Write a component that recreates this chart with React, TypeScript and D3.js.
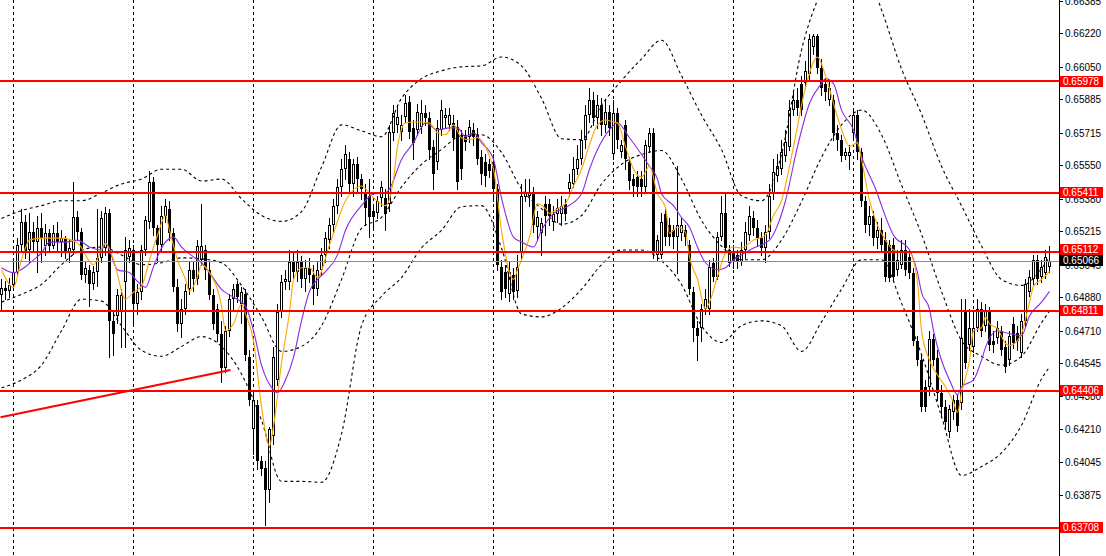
import React, { useEffect } from "react";
import * as d3 from "d3";

// ---- Data (prices quoted in pips, i.e. price x 10 000) ----
const open = [
  6489, 6492.5, 6491, 6494, 6501, 6514.5, 6526, 6512, 6521, 6516,
  6523, 6514, 6520.5, 6514, 6520.5, 6516, 6518, 6511, 6512, 6528.5,
  6521, 6499.5, 6502, 6494.5, 6501, 6508, 6513, 6531, 6476, 6478.5,
  6481, 6495.5, 6508.5, 6512, 6484.5, 6490.5, 6512, 6526, 6546.5, 6523,
  6514.5, 6529.5, 6533, 6520.5, 6493, 6474.5, 6482, 6492, 6502, 6497,
  6507, 6512, 6502, 6489, 6482, 6469.5, 6452, 6471, 6487, 6494.5,
  6484.5, 6489.5, 6457.5, 6421, 6433.5, 6405, 6401.5, 6390, 6417.5, 6446,
  6480.5, 6495.5, 6495.5, 6506, 6501, 6506, 6497, 6503, 6499.5, 6492,
  6502, 6509.5, 6517, 6524.5, 6534.5, 6544, 6553, 6558, 6545.5, 6555.5,
  6548, 6540.5, 6539.5, 6532, 6531, 6538.5, 6538.5, 6535.5, 6571.5, 6575.5,
  6572, 6579.5, 6587, 6574, 6573, 6574.5, 6581.5, 6579, 6564.5, 6556.5,
  6573, 6579, 6575.5, 6576.5, 6574.5, 6570.5, 6569.5, 6569.5, 6573, 6570.5,
  6559, 6556.5, 6555.5, 6556.5, 6543, 6503.5, 6501, 6489.5, 6499.5, 6491,
  6511, 6539, 6539.5, 6541, 6523.5, 6520.5, 6535.5, 6535.5, 6526, 6530.5,
  6530.5, 6535.5, 6543, 6545.5, 6553, 6558, 6568, 6580.5, 6588, 6579,
  6585.5, 6575.5, 6582, 6560.5, 6581.5, 6561.5, 6575.5, 6556.5, 6548, 6549,
  6548, 6544, 6564.5, 6571.5, 6509.5, 6509.5, 6530.5, 6524.5, 6522, 6518.5,
  6520.5, 6522, 6514.5, 6490.5, 6472.5, 6472.5, 6482, 6482, 6505.5, 6498.5,
  6518.5, 6531, 6505.5, 6511, 6509.5, 6506, 6512, 6519.5, 6528, 6523,
  6518, 6513, 6521, 6540.5, 6549.5, 6553, 6559.5, 6564.5, 6583, 6588,
  6596.5, 6597, 6601.5, 6615, 6620.5, 6604.5, 6596.5, 6588, 6588, 6571.5,
  6568, 6559.5, 6559.5, 6571.5, 6580.5, 6561.5, 6537, 6524.5, 6529.5, 6518,
  6522, 6517, 6514.5, 6514.5, 6502, 6504.5, 6512, 6508.5, 6500.5, 6466,
  6456, 6442.5, 6442.5, 6467, 6457, 6439.5, 6432.5, 6419.5, 6429.5, 6436,
  6434.5, 6481, 6463.5, 6462.5, 6472.5, 6482, 6473.5, 6480.5, 6466, 6467.5,
  6471, 6462.5, 6456, 6474.5, 6470, 6459.5, 6476, 6490.5, 6497, 6507,
  6498.5, 6500.5, 6503.5,
];
const high = [
  6497.5, 6496, 6498, 6506, 6518, 6533, 6530, 6531, 6526, 6529,
  6531, 6525, 6522.5, 6524.5, 6526, 6522, 6519, 6517, 6546.5, 6532,
  6523, 6506, 6504.5, 6504, 6533, 6532, 6534, 6533, 6481, 6492,
  6492, 6518.5, 6517, 6514.5, 6494.5, 6514.5, 6529.5, 6552, 6549, 6524.5,
  6534.5, 6538, 6537, 6523, 6497, 6487, 6494.5, 6506, 6506, 6517,
  6535.5, 6514.5, 6506, 6492, 6484.5, 6476, 6473.5, 6489.5, 6494.5, 6496,
  6493, 6492, 6461, 6441, 6436, 6407.5, 6405, 6422, 6462.5, 6484.5,
  6499.5, 6502, 6512, 6511, 6512, 6509, 6507, 6508, 6504.5, 6506,
  6513, 6521, 6528, 6538, 6548, 6558, 6565.5, 6562, 6558, 6559,
  6550.5, 6545.5, 6548, 6534.5, 6539.5, 6547, 6543, 6575.5, 6585.5, 6585.5,
  6580.5, 6590.5, 6590, 6578, 6586, 6588, 6585.5, 6582, 6568, 6578,
  6588, 6584, 6584, 6580.5, 6578, 6573, 6573, 6578, 6576.5, 6574,
  6563, 6560.5, 6558, 6560.5, 6545.5, 6507, 6504.5, 6506, 6503, 6509.5,
  6545.5, 6548, 6548, 6544, 6532, 6528, 6539.5, 6538, 6534.5, 6538,
  6539.5, 6538, 6550.5, 6559, 6565.5, 6573, 6585.5, 6594, 6592, 6590.5,
  6589, 6588, 6585.5, 6588, 6584, 6568, 6578, 6559, 6550.5, 6552,
  6552, 6568, 6574, 6574, 6519.5, 6531, 6533, 6528, 6524.5, 6554.5,
  6528, 6524.5, 6517, 6493, 6476, 6484.5, 6492, 6507, 6508, 6521,
  6539.5, 6540.5, 6514.5, 6514.5, 6512, 6516, 6526, 6534.5, 6532, 6527,
  6521, 6524.5, 6545.5, 6558, 6560.5, 6568, 6573, 6588, 6593, 6594,
  6600.5, 6608, 6621.5, 6621.5, 6621.5, 6609, 6599, 6598, 6590.5, 6575.5,
  6570.5, 6564, 6565.5, 6584, 6583, 6564, 6539.5, 6534.5, 6532, 6526,
  6528, 6521, 6517, 6518, 6512, 6517, 6517, 6512, 6503, 6468.5,
  6458.5, 6446, 6471, 6469.5, 6461, 6443.5, 6436, 6433.5, 6438.5, 6438.5,
  6487, 6487, 6482, 6479.5, 6487, 6485.5, 6484.5, 6483, 6471, 6476,
  6473.5, 6466, 6471, 6478, 6473.5, 6479.5, 6497, 6502, 6509.5, 6509.5,
  6507, 6512, 6514,
];
const low = [
  6482, 6487, 6488, 6492, 6499, 6512, 6508, 6506, 6512, 6501,
  6506, 6509.5, 6511, 6513, 6511, 6509, 6508, 6506, 6510, 6517,
  6497, 6495.5, 6483.5, 6492, 6493.5, 6506, 6509.5, 6457.5, 6458.5, 6475,
  6462.5, 6462.5, 6506, 6473.5, 6479.5, 6487, 6509.5, 6523, 6519.5, 6506,
  6512, 6526, 6517, 6491, 6471, 6468, 6479.5, 6489.5, 6491, 6494.5,
  6504.5, 6497, 6487, 6472, 6466, 6445, 6450, 6468.5, 6482, 6485.5,
  6475, 6456, 6433.5, 6408.5, 6401, 6397.5, 6372.5, 6384, 6413.5, 6443.5,
  6478, 6492, 6492, 6497, 6496, 6493, 6491, 6495.5, 6484.5, 6489,
  6499.5, 6506, 6513, 6521, 6531, 6539.5, 6548, 6541, 6539.5, 6541,
  6538, 6524.5, 6518.5, 6523, 6528, 6534.5, 6522, 6532, 6568, 6572,
  6568, 6577, 6569, 6558, 6570.5, 6571.5, 6575.5, 6558, 6543, 6553,
  6570.5, 6574, 6573, 6563, 6543, 6548, 6563, 6567, 6565.5, 6555.5,
  6545.5, 6544.5, 6549, 6537, 6502, 6487, 6488, 6486, 6487, 6488,
  6508, 6537, 6534.5, 6521, 6517, 6509.5, 6519.5, 6524.5, 6522, 6526,
  6524.5, 6527, 6539.5, 6544, 6550.5, 6555.5, 6564, 6577, 6575.5, 6574,
  6570.5, 6572, 6570.5, 6558, 6564, 6559, 6553, 6543, 6539.5, 6539.5,
  6539.5, 6541, 6562, 6508, 6507, 6508, 6514.5, 6514.5, 6513, 6500.5,
  6517, 6514.5, 6489.5, 6466, 6456, 6466, 6479.5, 6479.5, 6496, 6497,
  6517, 6511, 6504, 6503, 6503, 6504.5, 6508, 6517, 6519.5, 6514.5,
  6509.5, 6506, 6518, 6538, 6547, 6550.5, 6557, 6563, 6580.5, 6580.5,
  6580.5, 6594, 6599, 6611.5, 6602, 6590.5, 6588, 6585.5, 6568, 6563,
  6557, 6558, 6553, 6569, 6558, 6534.5, 6521, 6519.5, 6514.5, 6513,
  6512, 6496, 6496, 6496, 6499.5, 6503, 6499.5, 6498, 6463.5, 6453.5,
  6430, 6430, 6438.5, 6453.5, 6436, 6427, 6421, 6417, 6426, 6420,
  6431, 6452, 6461, 6460, 6471, 6468.5, 6471, 6461, 6460, 6465,
  6458.5, 6450, 6453.5, 6462, 6461, 6457.5, 6473.5, 6488.5, 6494.5, 6494.5,
  6495.5, 6498, 6501,
];
const close = [
  6492.5, 6491, 6494, 6501, 6514.5, 6526, 6511, 6521, 6516, 6523,
  6518, 6520.5, 6514, 6520.5, 6516, 6518, 6511, 6513, 6528.5, 6521,
  6499.5, 6503, 6494.5, 6501, 6508, 6528, 6531, 6476, 6469.5, 6489,
  6489, 6512, 6513, 6484.5, 6490.5, 6512, 6527, 6546.5, 6523, 6514.5,
  6529.5, 6534.5, 6520.5, 6493, 6474.5, 6482, 6491, 6502, 6497, 6514,
  6514, 6502, 6489, 6474.5, 6469.5, 6452, 6471, 6487, 6492, 6488,
  6490.5, 6458.5, 6436, 6436, 6405, 6401, 6390, 6421, 6457.5, 6480.5,
  6495.5, 6497, 6506, 6501, 6506, 6497, 6503, 6499.5, 6492, 6502,
  6509.5, 6518, 6524.5, 6534.5, 6544, 6553, 6560.5, 6545.5, 6555.5, 6548,
  6543, 6533.5, 6528.5, 6528.5, 6537, 6544, 6530.5, 6572, 6581.5, 6579.5,
  6575.5, 6586.5, 6572, 6566.5, 6582, 6581.5, 6579, 6563, 6550.5, 6574,
  6583, 6580.5, 6580.5, 6569, 6546.5, 6553, 6567, 6574.5, 6569.5, 6558,
  6550.5, 6549.5, 6552, 6543, 6504.5, 6490.5, 6492, 6501, 6490.5, 6503.5,
  6539.5, 6541, 6541, 6524.5, 6528.5, 6525.5, 6529.5, 6529.5, 6530.5, 6533.5,
  6534.5, 6530.5, 6546.5, 6553, 6558, 6568, 6580.5, 6588, 6579, 6585.5,
  6575.5, 6582, 6574, 6581.5, 6568, 6565.5, 6558, 6547, 6544.5, 6544,
  6544, 6565.5, 6571.5, 6510.5, 6517, 6526, 6518.5, 6518.5, 6518.5, 6524.5,
  6524.5, 6518.5, 6492, 6472.5, 6468.5, 6482, 6487, 6503.5, 6498.5, 6518.5,
  6531, 6513, 6512, 6506, 6506, 6512, 6521, 6529.5, 6523, 6518,
  6513, 6521, 6539.5, 6551.5, 6554.5, 6561.5, 6567, 6583, 6588, 6584,
  6583, 6603, 6619, 6620.5, 6604.5, 6594.5, 6592, 6594.5, 6571.5, 6568,
  6559.5, 6561.5, 6561.5, 6580.5, 6561.5, 6537, 6524.5, 6529.5, 6518, 6522,
  6514.5, 6498.5, 6498, 6498.5, 6507, 6512, 6502, 6500.5, 6466, 6456,
  6432.5, 6432.5, 6467, 6456, 6439.5, 6432.5, 6424.5, 6431, 6436, 6422.5,
  6467.5, 6454.5, 6472.5, 6472.5, 6482, 6471, 6481, 6463.5, 6463.5, 6472.5,
  6461, 6452.5, 6468.5, 6464.5, 6466, 6476, 6494.5, 6498.5, 6507, 6497,
  6503.5, 6508.5, 6506.6,
];

// Fast moving average (orange), read at these bars
const fastMaBars = [0,3,5,7,10,15,19,23,26,28,31,33,35,37,39,41,42,44,46,47,49,50,52,55,56,58,60,61,63,65,67,68,70,72,73,75,77,79,82,86,90,93,96,98,99,101,103,105,107,109,111,113,115,117,119,122,123,125,127,128,129,132,134,136,137,139,141,143,145,147,149,151,153,154,156,158,160,162,164,166,167,169,171,172,174,176,177,179,181,183,185,188,191,193,195,198,201,204,206,209,211,212,214,215,217,219,221,223,225,227,229,230,232,234,236,238,239,240,242,243,245,246,247,249,251,252,254,255,257,258,260,262];
const fastMa = [6502,6493,6507,6517,6518,6518,6515.5,6504.5,6515.5,6507,6487,6490.5,6493.5,6507,6519.5,6529.5,6522,6507,6497,6491,6498.5,6504.5,6500.5,6483.5,6471,6474.5,6484.5,6479.5,6466,6432.5,6412.5,6422.5,6454.5,6480.5,6497,6503,6503,6498,6514.5,6537,6544.5,6538.5,6534.5,6548,6564.5,6576.5,6577,6577,6576.5,6571.5,6570.5,6575.5,6569,6568,6569,6559.5,6553,6522,6500.5,6497,6502,6518.5,6535.5,6533,6530.5,6533,6535.5,6544.5,6553,6565.5,6575.5,6578,6577,6576.5,6564.5,6553,6549,6554.5,6540.5,6533.5,6520.5,6523.5,6521,6508.5,6497,6482,6485.5,6498.5,6510.5,6513.5,6513,6517,6519.5,6529.5,6537,6564.5,6594.5,6610,6600.5,6579.5,6568,6564.5,6566.5,6558,6537,6524.5,6517,6512,6511,6510.5,6495.5,6471,6456,6448.5,6442.5,6434.5,6429.5,6439.5,6456,6471,6472.5,6478,6474.5,6472,6464.5,6463.5,6466,6469.5,6485.5,6493.5,6497,6501];

// Slow moving average (purple)
const slowMaBars = [0,3,6,8,10,12,16,19,22,25,26,29,32,34,36,38,40,43,45,48,50,52,55,58,61,63,65,68,69,71,73,75,77,79,81,84,86,90,93,96,97,100,103,106,109,112,114,116,118,120,123,125,128,130,133,135,138,141,145,147,149,152,154,157,160,162,164,165,168,170,172,174,176,179,181,183,185,188,192,194,196,199,202,205,206,208,210,213,215,219,220,223,227,229,230,232,233,235,237,239,240,243,245,246,249,251,255,257,260,262];
const slowMa = [6503,6500.5,6503.5,6507,6510.5,6516,6516,6517,6513.5,6512,6515.5,6502,6500.5,6496,6493,6503.5,6513,6518.5,6513.5,6508.5,6505.5,6500.5,6492,6488,6483.5,6471,6453.5,6441,6439.5,6446,6457.5,6476,6491,6497,6501,6509.5,6522,6534.5,6540.5,6541,6543,6558,6566.5,6576.5,6573,6574,6574,6569.5,6571.5,6566.5,6558,6538.5,6518.5,6516,6513.5,6522,6530.5,6533.5,6540.5,6553,6563,6573,6576.5,6569,6560.5,6554.5,6548,6540.5,6534.5,6528.5,6523.5,6513.5,6505.5,6502,6503,6507,6509.5,6513,6517,6524.5,6537,6564.5,6586.5,6596.5,6599,6596.5,6583,6573,6559.5,6540.5,6534.5,6519.5,6512,6500.5,6490.5,6482,6471,6456,6446,6438.5,6442.5,6446,6456,6462.5,6471,6470,6468.5,6478.5,6485.5,6491];

// Bollinger bands, read every 5 bars
const bandBars = [0,5,10,15,20,25,30,35,40,45,50,55,60,65,70,75,80,85,90,95,100,105,110,115,120,125,130,135,140,145,150,155,160,165,170,175,180,185,190,195,200,205,210,215,220,225,230,235,240,245,250,255,260,262];
const bandUpper = [6528,6532,6534.5,6537,6537,6541,6545.5,6548,6553,6553,6547,6548,6538,6529.5,6526.5,6531.5,6554,6575.5,6572.5,6569.5,6589,6599,6603,6605,6605.5,6610,6605.5,6589,6568.5,6568,6585.5,6598,6609,6618.5,6600.5,6580.5,6563,6539.5,6537,6560.5,6613.5,6643.5,6659,6659,6634,6604,6581,6554.5,6534.5,6514,6497,6494,6502.5,6508.5];
const bandMiddle = [6485.5,6489.5,6494.5,6504.5,6512,6513.5,6509.5,6504.5,6505.5,6508,6507.5,6505.5,6494,6478,6460.5,6463,6473.5,6497,6523,6528.5,6544,6555.5,6563,6570,6570.5,6561.5,6543,6533,6525,6529.5,6545.5,6555.5,6560.5,6562.5,6548,6527,6514,6507,6507,6517,6536.5,6559,6575.5,6583,6570.5,6545,6520,6491,6466,6458,6453.5,6458,6475,6481];
const bandLower = [6442,6446,6453.5,6471,6487,6486,6473.5,6461,6458,6463,6468,6463,6449,6425.5,6394.5,6394.5,6394,6418.5,6473.5,6488.5,6498,6513,6522,6534,6534.5,6513,6479.5,6478,6482.5,6492,6504.5,6512,6512,6506.5,6494.5,6473.5,6465,6473.5,6476,6473.5,6460.5,6475.5,6492,6507,6507,6485,6459,6427.5,6397.5,6402,6409,6423,6446.5,6452.5];

// Horizontal levels, price line, trend line, axis ticks, grid
const levels = [0.65978, 0.65411, 0.65112, 0.64811, 0.64406, 0.63708];
const lastPrice = 0.65066;
const trendBars = [-0.25, 57.25];
const trendPrices = [0.6427, 0.6451];
const tickLabels = ["0.66385","0.66220","0.66050","0.65885","0.65715","0.65550","0.65380","0.65215","0.65045","0.64880","0.64710","0.64545","0.64380","0.64210","0.64045","0.63875"];
const gridBars = [3, 33, 63, 93, 123, 153, 183, 213, 243];

const W = 1106;
const H = 556;
const PLOT_R = 1059;
const FONT = "'Liberation Sans', Arial, sans-serif";
const FS = 10;
const toPrice = (p: number) => p / 10000;

export default function App() {
  useEffect(() => {
    document.body.style.margin = "0";
  }, []);

  const x = d3.scaleLinear().domain([0, 262]).range([1.5, 1049.5]);
  const y = d3.scaleLinear().domain([0.635658, 0.663894]).range([H, 0]);

  const n = Math.min(open.length, high.length, low.length, close.length);
  const candles = d3.range(n).map((i) => ({
    i,
    o: toPrice(open[i]),
    h: toPrice(high[i]),
    l: toPrice(low[i]),
    c: toPrice(close[i]),
  }));

  const lineGen = d3
    .line<[number, number]>()
    .x((d) => x(d[0]))
    .y((d) => y(d[1]))
    .curve(d3.curveMonotoneX);

  const series = (bars: number[], vals: number[]) =>
    lineGen(bars.map((b, k) => [b, toPrice(vals[k])] as [number, number])) || "";

  const boxH = 11;
  const yLast = y(lastPrice);
  const levelBoxes = levels.map((v) => {
    let cy = y(v);
    if (Math.abs(cy - yLast) < boxH) {
      cy = cy < yLast ? yLast - boxH : yLast + boxH;
    }
    return { v, lineY: Math.round(y(v)), cy };
  });

  return (
    <svg
      width={W}
      height={H}
      style={{ position: "absolute", left: 0, top: 0, background: "#fff" }}
      fontFamily={FONT}
    >
      <defs>
        <clipPath id="plot">
          <rect x={0} y={0} width={PLOT_R} height={H} />
        </clipPath>
      </defs>
      <rect x={0} y={0} width={W} height={H} fill="#fff" />

      <g clipPath="url(#plot)">
        {/* vertical grid */}
        {gridBars.map((b) => (
          <line
            key={"g" + b}
            x1={x(b)}
            x2={x(b)}
            y1={0}
            y2={H}
            stroke="#000"
            strokeWidth={1}
            strokeDasharray="3,3"
            shapeRendering="crispEdges"
          />
        ))}

        {/* candles */}
        <g shapeRendering="crispEdges">
          {candles.map((d) => {
            const cx = x(d.i);
            const top = Math.round(y(Math.max(d.o, d.c)));
            const bot = Math.round(y(Math.min(d.o, d.c)));
            const hgt = Math.max(1, bot - top);
            const bull = d.c > d.o;
            return (
              <g key={"c" + d.i}>
                <line
                  x1={cx}
                  x2={cx}
                  y1={Math.round(y(d.h))}
                  y2={Math.round(y(d.l)) + 1}
                  stroke="#000"
                  strokeWidth={1}
                />
                <rect x={cx - 1.5} y={top} width={3} height={hgt} fill="#000" />
                {bull && hgt > 2 && (
                  <rect x={cx - 0.5} y={top + 1} width={1} height={hgt - 2} fill="#fff" />
                )}
              </g>
            );
          })}
        </g>

        {/* Bollinger bands */}
        {[bandUpper, bandMiddle, bandLower].map((vals, k) => (
          <path
            key={"bb" + k}
            d={series(bandBars, vals)}
            fill="none"
            stroke="#000"
            strokeWidth={1.1}
            strokeDasharray="3,3"
          />
        ))}

        {/* moving averages */}
        <path d={series(slowMaBars, slowMa)} fill="none" stroke="#8a2be2" strokeWidth={1.1} />
        <path d={series(fastMaBars, fastMa)} fill="none" stroke="#ffa500" strokeWidth={1.1} />

        {/* last price line */}
        <rect x={0} y={Math.round(yLast)} width={PLOT_R} height={1} fill="#8c8c8c" shapeRendering="crispEdges" />

        {/* horizontal levels */}
        {levelBoxes.map((b) => (
          <rect
            key={"lv" + b.v}
            x={0}
            y={b.lineY - 1}
            width={PLOT_R}
            height={2}
            fill="#ff0000"
            shapeRendering="crispEdges"
          />
        ))}

        {/* trend line */}
        <line
          x1={x(trendBars[0])}
          y1={y(trendPrices[0])}
          x2={x(trendBars[1])}
          y2={y(trendPrices[1])}
          stroke="#ff0000"
          strokeWidth={2}
        />
      </g>

      {/* right price axis */}
      <line x1={PLOT_R + 0.5} x2={PLOT_R + 0.5} y1={0} y2={H} stroke="#000" strokeWidth={1} shapeRendering="crispEdges" />
      {tickLabels.map((t) => {
        const ty = Math.round(y(parseFloat(t))) + 0.5;
        return (
          <g key={"t" + t}>
            <line x1={PLOT_R + 1} x2={PLOT_R + 4} y1={ty} y2={ty} stroke="#000" strokeWidth={1} shapeRendering="crispEdges" />
            <text x={PLOT_R + 6} y={ty + 3.5} fontSize={FS} fill="#000">
              {t}
            </text>
          </g>
        );
      })}

      {/* level labels */}
      {levelBoxes.map((b) => (
        <g key={"lb" + b.v}>
          <rect x={PLOT_R + 1} y={Math.round(b.cy - boxH / 2)} width={43} height={boxH} fill="#ff0000" shapeRendering="crispEdges" />
          <text x={PLOT_R + 4} y={Math.round(b.cy - boxH / 2) + 9} fontSize={FS} fill="#fff">
            {b.v.toFixed(5)}
          </text>
        </g>
      ))}
      <g>
        <rect x={PLOT_R + 1} y={Math.round(yLast - boxH / 2)} width={43} height={boxH} fill="#000" shapeRendering="crispEdges" />
        <text x={PLOT_R + 4} y={Math.round(yLast - boxH / 2) + 9} fontSize={FS} fill="#fff">
          {lastPrice.toFixed(5)}
        </text>
      </g>
    </svg>
  );
}
